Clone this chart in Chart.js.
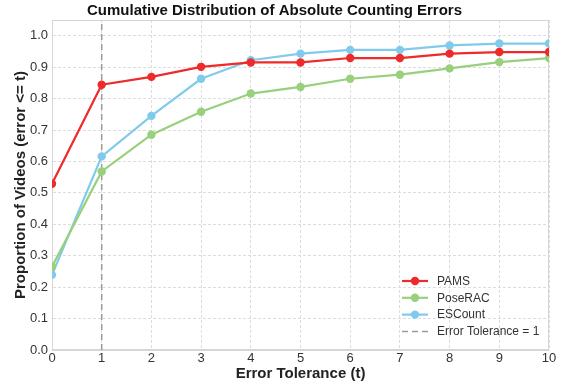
<!DOCTYPE html>
<html><head><meta charset="utf-8">
<script src="https://cdn.jsdelivr.net/npm/chart.js@4/dist/chart.umd.min.js"></script>
<style>html,body{margin:0;padding:0;background:#fff}#w{width:566px;height:383px}</style>
</head><body><div id="w"><canvas id="c"></canvas></div>
<script>
const tolerances = [0,1,2,3,4,5,6,7,8,9,10];
const pams    = [0.529,0.844,0.869,0.901,0.915,0.915,0.929,0.929,0.943,0.948,0.948];
const poserac = [0.265,0.568,0.685,0.758,0.816,0.837,0.863,0.876,0.896,0.916,0.929];
const escount = [0.239,0.616,0.745,0.863,0.922,0.943,0.955,0.955,0.969,0.975,0.975];
const refLineX = 1;
const seriesLabels = ['PAMS','PoseRAC','ESCount','Error Tolerance = 1'];
const FONT = "'Liberation Sans', Arial, sans-serif";

const toPts = arr => arr.map((v,i)=>({x:tolerances[i], y:v}));

const frame = {
  id:'frame',
  beforeDatasetsDraw(chart){
    const {ctx, chartArea:a} = chart;
    ctx.save(); ctx.strokeStyle='#d6d6d6'; ctx.lineWidth=1;
    ctx.strokeRect(a.left+0.5, a.top+0.5, a.right-a.left-1, a.bottom-a.top-1);
    ctx.restore();
  }
};
const innerLegend = {
  id:'innerLegend',
  afterDraw(chart){
    const {ctx} = chart;
    const x0 = 402, y0 = 281, dy = 16.8;
    ctx.save();
    ctx.font = "12px " + FONT; ctx.textBaseline='middle'; ctx.fillStyle='#333';
    chart.data.datasets.forEach((ds,i)=>{
      const y = y0 + i*dy;
      ctx.strokeStyle = ds.borderColor; ctx.lineWidth = ds.borderWidth;
      ctx.setLineDash(ds.borderDash || []);
      ctx.beginPath(); ctx.moveTo(x0,y); ctx.lineTo(x0+26,y); ctx.stroke();
      ctx.setLineDash([]);
      if (ds.pointRadius > 0) {
        ctx.fillStyle = ds.backgroundColor;
        ctx.beginPath(); ctx.arc(x0+13,y,ds.pointRadius,0,Math.PI*2); ctx.fill();
      }
      ctx.fillStyle='#333';
      ctx.fillText(ds.label, x0+35, y+0.5);
    });
    ctx.restore();
  }
};

const mk = (label, data, color) => ({
  label, data: toPts(data), borderColor: color, backgroundColor: color,
  borderWidth: 2.2, pointRadius: 4.2, pointHoverRadius: 4.2, pointBorderWidth: 0, order: 1, tension: 0
});

new Chart(document.getElementById('c'), {
  type: 'line',
  data: { datasets: [
    mk(seriesLabels[0], pams, '#ee2a2a'),
    mk(seriesLabels[1], poserac, '#98d07c'),
    mk(seriesLabels[2], escount, '#80cbec'),
    { label: seriesLabels[3], data: [{x:refLineX,y:0},{x:refLineX,y:1.05}],
      borderColor:'#9a9a9a', backgroundColor:'#9a9a9a', borderWidth:1.5, borderDash:[6,4],
      pointRadius:0, order: 10 }
  ]},
  options: {
    responsive: true, maintainAspectRatio: false, animation: false,
    layout: { padding: { left: 0, right: 17, top: 0, bottom: 0 } },
    plugins: {
      legend: { display: false }, tooltip: { enabled: false },
      title: { display: true, text: 'Cumulative Distribution of Absolute Counting Errors',
        color: '#111', font: { family: FONT, size: 15, weight: 'bold' }, padding: { top: 2, bottom: 0 } }
    },
    scales: {
      x: { type: 'linear', min: 0, max: 10,
        afterFit: s => { s.height = 33; },
        ticks: { stepSize: 1, color: '#333', font: { family: FONT, size: 13 }, padding: 1 },
        grid: { color: '#dcdcdc', drawTicks: false },
        border: { display: true, color: '#d6d6d6', dash: [3,2] },
        title: { display: true, text: 'Error Tolerance (t)', color: '#222',
          font: { family: FONT, size: 15, weight: 'bold' }, padding: { top: 0, bottom: 0 } } },
      y: { min: 0, max: 1.05,
        afterFit: s => { s.width = 52; },
        ticks: { stepSize: 0.1, color: '#333', font: { family: FONT, size: 13 }, padding: 4,
          callback: v => (Math.abs(v*10 - Math.round(v*10)) < 1e-6 ? v.toFixed(1) : null) },
        grid: { color: '#dcdcdc', drawTicks: false },
        border: { display: true, color: '#d6d6d6', dash: [3,2] },
        title: { display: true, text: 'Proportion of Videos (error <= t)', color: '#222',
          font: { family: FONT, size: 15, weight: 'bold' }, padding: { top: 12, bottom: 0 } } }
    }
  },
  plugins: [frame, innerLegend]
});
</script></body></html>
